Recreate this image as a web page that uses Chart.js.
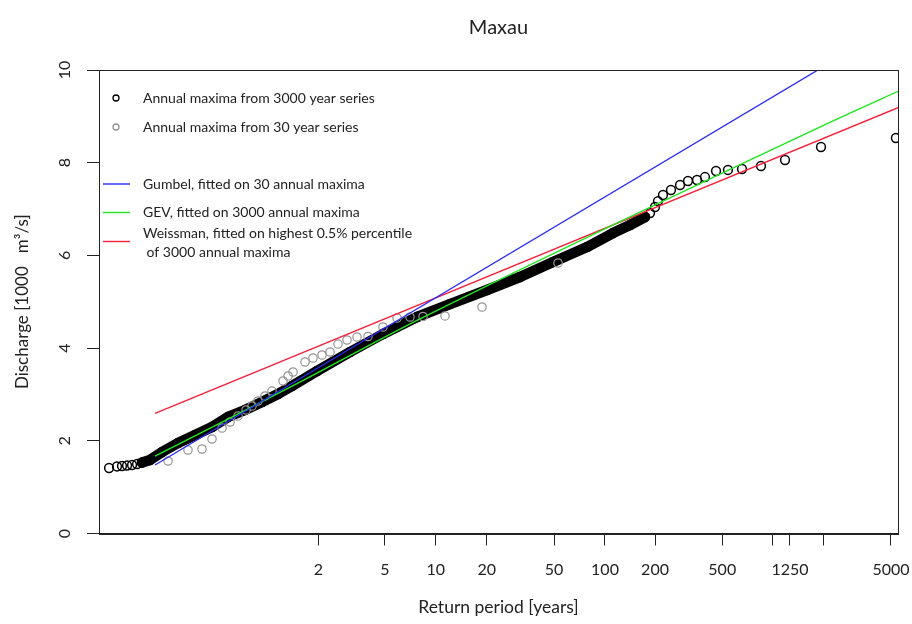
<!DOCTYPE html>
<html>
<head>
<meta charset="utf-8">
<script src="https://cdn.jsdelivr.net/npm/chart.js@4/dist/chart.umd.min.js"></script>
<style>
html,body{margin:0;padding:0;background:#fff;}
#wrap{width:912px;height:624px;position:relative;}
</style>
</head>
<body>
<div id="wrap"><canvas id="c" width="912" height="624"></canvas></div>
<script>
// x values are the Gumbel reduced variate of the return period
const tickVariates = [0.627, 1.549, 2.250, 2.956, 3.887, 4.592, 5.284, 6.214, 6.912, 7.151, 7.621, 8.548];
const tickLabels   = ['2', '5', '10', '20', '50', '100', '200', '500', '', '1250', '', '5000'];

// 3000-year series: dense band (thousands of overlapping circles) read as a centre line
const band3000Variate   = [-1.812, -1.701, -1.535, -1.314, -1.079, -0.844, -0.622, -0.388, -0.153, 0.069, 0.263, 0.609, 1.065, 1.521, 1.992, 2.448, 2.960, 3.416, 3.873, 4.343, 4.703, 4.938, 5.145];
const band3000Discharge = [1.532, 1.586, 1.758, 1.953, 2.125, 2.298, 2.514, 2.665, 2.837, 3.010, 3.182, 3.506, 3.916, 4.304, 4.671, 4.951, 5.254, 5.534, 5.858, 6.181, 6.483, 6.656, 6.828];
// 3000-year series: individually visible circles
const sparse3000Variate   = [-2.268, -2.158, -2.089, -2.019, -1.950, -1.881, 5.215, 5.284, 5.325, 5.394, 5.505, 5.630, 5.740, 5.865, 5.975, 6.128, 6.293, 6.487, 6.750, 7.082, 7.580, 8.616];
const sparse3000Discharge = [1.413, 1.446, 1.456, 1.467, 1.478, 1.499, 6.914, 7.044, 7.173, 7.303, 7.411, 7.519, 7.605, 7.627, 7.691, 7.821, 7.843, 7.864, 7.929, 8.058, 8.339, 8.533];

// 30-year series
const series30Variate   = [-1.452, -1.176, -0.982, -0.844, -0.705, -0.595, -0.484, -0.373, -0.291, -0.208, -0.111, -0.014, 0.139, 0.208, 0.277, 0.443, 0.553, 0.678, 0.789, 0.899, 1.024, 1.162, 1.314, 1.521, 1.715, 1.895, 2.075, 2.379, 2.891, 3.942];
const series30Discharge = [1.564, 1.801, 1.823, 2.039, 2.276, 2.406, 2.535, 2.665, 2.751, 2.859, 2.967, 3.074, 3.290, 3.398, 3.484, 3.700, 3.786, 3.851, 3.916, 4.088, 4.175, 4.239, 4.250, 4.455, 4.649, 4.671, 4.682, 4.693, 4.887, 5.836];

// fitted distributions
const gumbelVariate   = [-1.632, 7.538];
const gumbelDischarge = [1.478, 10.0];
const gevVariate      = [-1.632, 0.304, 2.033, 4.799, 7.746, 8.645];
const gevDischarge    = [1.67, 3.21, 4.63, 6.73, 8.90, 9.54];
const weissVariate    = [-1.632, 8.645];
const weissDischarge  = [2.593, 9.187];

const legendLabels = [
  'Annual maxima from 3000 year series',
  'Annual maxima from 30 year series',
  'Gumbel, fitted on 30 annual maxima',
  'GEV, fitted on 3000 annual maxima',
  ['Weissman, fitted on highest 0.5% percentile', ' of 3000 annual maxima']
];

const FAMILY = 'Lato, "Open Sans", sans-serif';
const TEXT = '#222';
const BLUE = '#2a2af5', GREEN = '#1fe61f', RED = '#f5203c', GREY = '#959595';

const pts = (xs, ys) => xs.map((x, i) => ({x: x, y: ys[i]}));

const boxPlugin = {
  id: 'box',
  afterDraw(chart) {
    const a = chart.chartArea, ctx = chart.ctx;
    ctx.save();
    ctx.strokeStyle = '#222';
    ctx.lineWidth = 1;
    ctx.strokeRect(Math.round(a.left) + 0.5, Math.round(a.top) + 0.5, Math.round(a.right - a.left), Math.round(a.bottom - a.top));
    ctx.restore();
  }
};

const legendPlugin = {
  id: 'rLegend',
  afterDraw(chart) {
    const ctx = chart.ctx;
    const ds = chart.data.datasets;
    ctx.save();
    ctx.font = '14px ' + FAMILY;
    ctx.textBaseline = 'middle';
    ctx.fillStyle = TEXT;
    const tx = 143;
    const pointRows = [[98, ds[5]], [127, ds[3]]];
    pointRows.forEach(([y, d], i) => {
      ctx.beginPath();
      ctx.arc(116, y, 3, 0, Math.PI * 2);
      ctx.lineWidth = 1.3;
      ctx.strokeStyle = d.pointBorderColor;
      ctx.stroke();
      ctx.fillText(legendLabels[i], tx, y);
    });
    const lineRows = [[184, ds[0], [184]], [212.5, ds[1], [212.5]], [241.5, ds[2], [233.5, 252]]];
    lineRows.forEach(([y, d, ty], i) => {
      ctx.beginPath();
      ctx.moveTo(103, y);
      ctx.lineTo(130, y);
      ctx.lineWidth = 1.4;
      ctx.strokeStyle = d.borderColor;
      ctx.stroke();
      const lab = legendLabels[i + 2];
      const lines = Array.isArray(lab) ? lab : [lab];
      lines.forEach((t, k) => ctx.fillText(t, tx, ty[k]));
    });
    ctx.restore();
  }
};

new Chart(document.getElementById('c'), {
  type: 'scatter',
  data: {
    datasets: [
      {label: 'Gumbel', type: 'line', data: pts(gumbelVariate, gumbelDischarge), borderColor: BLUE, borderWidth: 1.4, pointRadius: 0, fill: false, order: 1},
      {label: 'GEV', type: 'line', data: pts(gevVariate, gevDischarge), borderColor: GREEN, borderWidth: 1.4, pointRadius: 0, tension: 0.3, fill: false, order: 1},
      {label: 'Weissman', type: 'line', data: pts(weissVariate, weissDischarge), borderColor: RED, borderWidth: 1.4, pointRadius: 0, fill: false, order: 1},
      {label: '30 year', data: pts(series30Variate, series30Discharge), showLine: false, pointRadius: 4.2, pointBorderWidth: 1.2, pointBorderColor: GREY, pointBackgroundColor: 'rgba(0,0,0,0)', order: 2, clip: 0},
      {label: '3000 band', type: 'line', data: pts(band3000Variate, band3000Discharge), borderColor: '#000', borderWidth: 10.5, borderCapStyle: 'round', borderJoinStyle: 'round', pointRadius: 4.6, pointBorderWidth: 1.5, pointBorderColor: '#000', pointBackgroundColor: 'rgba(0,0,0,0)', fill: false, order: 3},
      {label: '3000 year', data: pts(sparse3000Variate, sparse3000Discharge), showLine: false, pointRadius: 4.4, pointBorderWidth: 1.5, pointBorderColor: '#000', pointBackgroundColor: 'rgba(0,0,0,0)', order: 3, clip: 0}
    ]
  },
  options: {
    responsive: false,
    animation: false,
    events: [],
    layout: {padding: {left: 0, right: 14, top: 0, bottom: 0}},
    plugins: {
      legend: {display: false},
      tooltip: {enabled: false},
      title: {display: true, text: 'Maxau', fullSize: false, color: TEXT, font: {family: FAMILY, size: 20, weight: 'normal'}, padding: {top: 16, bottom: 30}}
    },
    scales: {
      x: {
        type: 'linear', min: -2.407, max: 8.645,
        afterBuildTicks: s => { s.ticks = tickVariates.map(v => ({value: v})); },
        afterFit: s => { s.height = 90.5; s.paddingLeft = 0; s.paddingRight = 0; },
        ticks: {autoSkip: false, minRotation: 0, maxRotation: 0, padding: 14.5, color: TEXT, font: {family: FAMILY, size: 16}, callback: (v, i) => tickLabels[i]},
        grid: {display: true, drawOnChartArea: false, drawTicks: true, tickLength: 12, tickColor: '#222', tickWidth: 1},
        border: {display: true, color: '#222', width: 1},
        title: {display: true, text: 'Return period [years]', color: TEXT, font: {family: FAMILY, size: 17.5}, padding: {top: 0, bottom: 6}}
      },
      y: {
        min: 0, max: 10,
        afterFit: s => { s.width = 99; s.paddingTop = 0; s.paddingBottom = 0; },
        ticks: {stepSize: 2, minRotation: 90, maxRotation: 90, crossAlign: 'center', padding: 13, color: TEXT, font: {family: FAMILY, size: 16}},
        grid: {display: true, drawOnChartArea: false, drawTicks: true, tickLength: 12, tickColor: '#222', tickWidth: 1},
        border: {display: true, color: '#222', width: 1},
        title: {display: true, text: 'Discharge [1000   m\u00B3/s]', color: TEXT, font: {family: FAMILY, size: 17}, padding: {top: 12, bottom: 0}}
      }
    }
  },
  plugins: [boxPlugin, legendPlugin]
});
</script>
</body>
</html>
